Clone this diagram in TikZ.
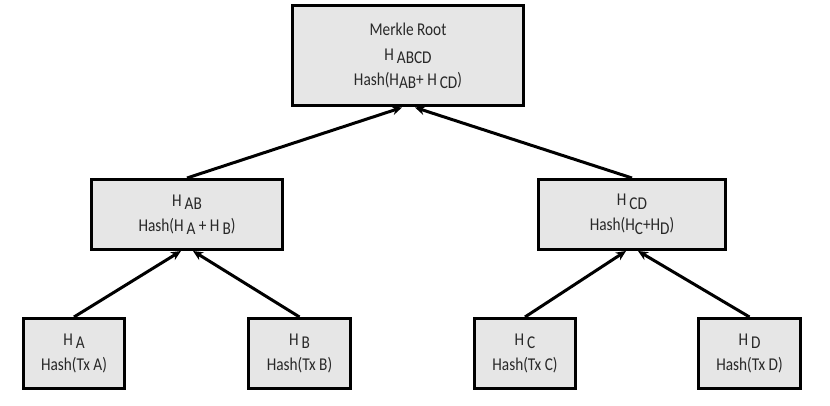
\documentclass[tikz,border=0pt]{standalone}
\usepackage{fontspec}
\setmainfont{Carlito}[FakeStretch=0.85]
\usepackage{xcolor}
\usepackage{tikz}
\usetikzlibrary{arrows.meta,calc}
\definecolor{boxgray}{RGB}{230,230,230}
\definecolor{textgray}{RGB}{40,40,40}
\newcommand{\hsub}[1]{\raisebox{-0.4ex}{#1}}

\begin{document}
\begin{tikzpicture}[x=1pt, y=1pt,
  every node/.style={font=\fontsize{18}{25}\selectfont, text=textgray, align=center, inner sep=0pt},
  hashbox/.style={draw=black, line width=3pt, fill=boxgray},
  link/.style={line width=3pt, -{Stealth[length=10pt,width=9pt]}}]
  \useasboundingbox (0,0) rectangle (830,406);
  % top level
  \node[hashbox, minimum width=231pt, minimum height=100pt] (root) at (408,350)
    {Merkle Root\\H\,\hsub{ABCD}\\Hash(H\hsub{AB}+ H\,\hsub{CD})};
  % middle level
  \node[hashbox, minimum width=191pt, minimum height=70pt] (hab) at (187,191.5)
    {H\,\hsub{AB}\\Hash(H\,\hsub{A} + H\,\hsub{B})};
  \node[hashbox, minimum width=187pt, minimum height=70pt] (hcd) at (632,191.5)
    {H\,\hsub{CD}\\Hash(H\hsub{C}+H\hsub{D})};
  % leaves
  \node[hashbox, minimum width=101pt, minimum height=70pt] (ha) at (74,52.5)
    {H\,\hsub{A}\\Hash(Tx A)};
  \node[hashbox, minimum width=102pt, minimum height=70pt] (hb) at (299.5,52.5)
    {H\,\hsub{B}\\Hash(Tx B)};
  \node[hashbox, minimum width=101pt, minimum height=70pt] (hc) at (525,52.5)
    {H\,\hsub{C}\\Hash(Tx C)};
  \node[hashbox, minimum width=102pt, minimum height=70pt] (hd) at (749.5,52.5)
    {H\,\hsub{D}\\Hash(Tx D)};

  % arrows up the tree
  \draw[link] (hab.north) -- ($(root.south)+(-6,0)$);
  \draw[link] (hcd.north) -- ($(root.south)+(7,0)$);
  \draw[link] (ha.north) -- ($(hab.south)+(-6,0)$);
  \draw[link] (hb.north) -- ($(hab.south)+(6,0)$);
  \draw[link] (hc.north) -- ($(hcd.south)+(-6,0)$);
  \draw[link] (hd.north) -- ($(hcd.south)+(6,0)$);
\end{tikzpicture}
\end{document}
